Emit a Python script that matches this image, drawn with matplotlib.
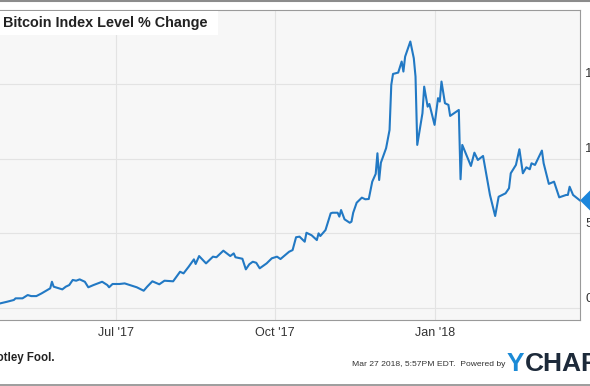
import datetime as dt

import matplotlib
matplotlib.use("Agg")
import matplotlib.pyplot as plt
import matplotlib.transforms as mtransforms
from matplotlib.patches import Polygon, Rectangle
from matplotlib.lines import Line2D

plt.rcParams["font.family"] = ["Liberation Sans", "DejaVu Sans"]

# Bitcoin index level, % change
dates = [
    "2017-04-25", "2017-04-29", "2017-05-03", "2017-05-04", "2017-05-08",
    "2017-05-11", "2017-05-13", "2017-05-16", "2017-05-19", "2017-05-24",
    "2017-05-25", "2017-05-26", "2017-05-31", "2017-06-02", "2017-06-04",
    "2017-06-06", "2017-06-08", "2017-06-10", "2017-06-13", "2017-06-15",
    "2017-06-18", "2017-06-23", "2017-06-26", "2017-06-27", "2017-06-29",
    "2017-07-03", "2017-07-06", "2017-07-09", "2017-07-13", "2017-07-17",
    "2017-07-19", "2017-07-22", "2017-07-26", "2017-07-29", "2017-08-03",
    "2017-08-07", "2017-08-09", "2017-08-12", "2017-08-15", "2017-08-16",
    "2017-08-18", "2017-08-22", "2017-08-26", "2017-08-28", "2017-08-30",
    "2017-09-01", "2017-09-05", "2017-09-07", "2017-09-08", "2017-09-12",
    "2017-09-14", "2017-09-16", "2017-09-18", "2017-09-20", "2017-09-22",
    "2017-09-26", "2017-09-29", "2017-10-02", "2017-10-04", "2017-10-09",
    "2017-10-11", "2017-10-13", "2017-10-15", "2017-10-16", "2017-10-18",
    "2017-10-19", "2017-10-22", "2017-10-25", "2017-10-26", "2017-10-27",
    "2017-10-30", "2017-11-02", "2017-11-03", "2017-11-06", "2017-11-07",
    "2017-11-08", "2017-11-10", "2017-11-13", "2017-11-14", "2017-11-15",
    "2017-11-17", "2017-11-20", "2017-11-22", "2017-11-24", "2017-11-26",
    "2017-11-28", "2017-11-29", "2017-11-30", "2017-12-01", "2017-12-04",
    "2017-12-06", "2017-12-07", "2017-12-08", "2017-12-11", "2017-12-13",
    "2017-12-14", "2017-12-15", "2017-12-18", "2017-12-20", "2017-12-21",
    "2017-12-22", "2017-12-25", "2017-12-26", "2017-12-28", "2017-12-29",
    "2018-01-01", "2018-01-03", "2018-01-04", "2018-01-05", "2018-01-07",
    "2018-01-09", "2018-01-10", "2018-01-15", "2018-01-16", "2018-01-17",
    "2018-01-22", "2018-01-24", "2018-01-26", "2018-01-29", "2018-02-02",
    "2018-02-05", "2018-02-07", "2018-02-11", "2018-02-13", "2018-02-14",
    "2018-02-17", "2018-02-19", "2018-02-21", "2018-02-23", "2018-02-25",
    "2018-02-26", "2018-02-28", "2018-03-04", "2018-03-05", "2018-03-08",
    "2018-03-11", "2018-03-14", "2018-03-18", "2018-03-19", "2018-03-20",
    "2018-03-22", "2018-03-26",
]
pct_change = [
    31, 42, 54, 65, 65,
    87, 80, 80, 98, 132,
    176, 143, 125, 143, 154,
    188, 183, 192, 176, 139,
    154, 176, 154, 139, 161,
    161, 165, 154, 139, 116,
    143, 179, 159, 183, 179,
    243, 232, 277, 326, 295,
    348, 299, 344, 340, 362,
    384, 348, 366, 340, 330,
    259, 293, 310, 303, 266,
    299, 333, 344, 328, 377,
    388, 474, 478, 467, 444,
    504, 487, 455, 500, 482,
    522, 634, 638, 638, 612,
    656, 594, 571, 578, 638,
    705, 739, 728, 730, 846,
    898, 1036, 857, 973, 1070,
    1192, 1494, 1567, 1576, 1650,
    1583, 1683, 1784, 1672, 1549,
    1092, 1304, 1482, 1348, 1366,
    1226, 1405, 1382, 1516, 1371,
    1360, 1286, 1326, 862, 1092,
    951, 1040, 991, 1018, 757,
    616, 745, 768, 802, 902,
    958, 1063, 902, 942, 929,
    969, 958, 1054, 969, 831,
    846, 741, 757, 757, 812,
    757, 720,
]

x_ticks = ["2017-07-01", "2017-10-01", "2018-01-01"]
x_labels = ["Jul '17", "Oct '17", "Jan '18"]
y_ticks = [0, 500, 1000, 1500]
y_labels = ["0.00%", "500.0%", "1000.0%", "1500.0%"]
x_range = ["2017-04-25", "2018-03-26"]
y_range = [-80, 1995]

title_str = "Bitcoin Index Level % Change"
footer_left = "Motley Fool."
footer_right = "Mar 27 2018, 5:57PM EDT.  Powered by"

line_clr = "#2279c4"
flag_clr = "#1c86dc"
grid_clr = "#e3e3e3"
frame_clr = "#9a9a9a"
bg_clr = "#f7f7f7"

W, H = 590, 386


def fx(px):
    return px / W


def fy(py):
    return 1 - py / H


to_dt = lambda s: dt.datetime.strptime(s, "%Y-%m-%d")
x_vals = [to_dt(d) for d in dates]

fig = plt.figure(figsize=(W / 100, H / 100), dpi=100)
fig.patch.set_facecolor("white")

# plot area: left edge is cropped at the image border
ax = fig.add_axes([fx(0), fy(320), fx(580), (320 - 10) / H])
ax.set_facecolor(bg_clr)

ax.plot(x_vals, pct_change, color=line_clr, linewidth=1.5, solid_joinstyle="round")

ax.set_xlim([to_dt(x_range[0]), to_dt(x_range[1])])
ax.set_ylim(y_range)

ax.set_xticks([to_dt(d) for d in x_ticks])
ax.set_xticklabels(x_labels)
ax.tick_params(axis="x", length=0, pad=5, labelsize=9, labelcolor="#333333")

ax.yaxis.tick_right()
ax.set_yticks(y_ticks)
ax.set_yticklabels(y_labels)
ax.tick_params(axis="y", length=0, pad=3.6, labelsize=9.5, labelcolor="#333333")
lbl_shift = mtransforms.ScaledTranslation(0, 11 / 100, fig.dpi_scale_trans)
for lbl in ax.get_yticklabels():
    lbl.set_transform(lbl.get_transform() + lbl_shift)

ax.grid(True, color=grid_clr, linewidth=0.8)
ax.set_axisbelow(True)

ax.spines["left"].set_visible(False)
for side in ["top", "right", "bottom"]:
    ax.spines[side].set_color(frame_clr)
    ax.spines[side].set_linewidth(0.8)

# current value flag on the right axis
unit_per_px = (y_range[1] - y_range[0]) / 310
last_val = pct_change[-1]
half_h = 10 * unit_per_px
flag = Polygon(
    [
        (1.0, last_val),
        (1 + 10 / 580, last_val + half_h),
        (1.3, last_val + half_h),
        (1.3, last_val - half_h),
        (1 + 10 / 580, last_val - half_h),
    ],
    closed=True,
    transform=ax.get_yaxis_transform(),
    facecolor=flag_clr,
    edgecolor="none",
    clip_on=False,
    zorder=5,
)
ax.add_patch(flag)

# title box
fig.add_artist(
    Rectangle((fx(0), fy(35)), fx(218), (35 - 11) / H,
              transform=fig.transFigure, facecolor="white", edgecolor="none", zorder=3)
)
fig.text(fx(3), fy(23), title_str, fontsize=10.4, fontweight="bold",
         color="#222222", ha="left", va="center", zorder=4)

# outer frame lines
fig.add_artist(Line2D([0, 1], [fy(0.8), fy(0.8)], transform=fig.transFigure,
                      color="#8c8c8c", linewidth=1.5))
fig.add_artist(Line2D([0, 1], [fy(385), fy(385)], transform=fig.transFigure,
                      color="#8c8c8c", linewidth=1.2))

# footer
fig.text(fx(55), fy(358), footer_left, fontsize=8.3, fontweight="bold",
         color="#222222", ha="right", va="center")
fig.text(fx(505), fy(365), footer_right, fontsize=6.1,
         color="#333333", ha="right", va="center")
y_txt = fig.text(fx(507), fy(364), "Y", fontsize=19, fontweight="bold",
                 color="#1b8ad6", ha="left", va="center")
ax.annotate("CHARTS", xy=(1, 0), xycoords=y_txt, ha="left", va="bottom",
            fontsize=19, fontweight="bold", color="#1d2a3a", annotation_clip=False)

fig.savefig("out.png", dpi=100)
